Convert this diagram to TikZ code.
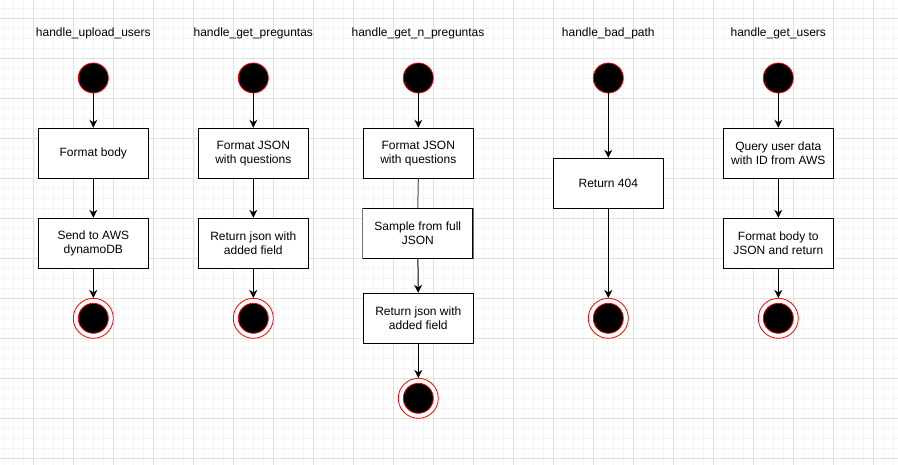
\documentclass[tikz,border=0pt]{standalone}
\usepackage{fontspec}
\setmainfont{Liberation Sans}
\usetikzlibrary{arrows.meta}
\begin{document}
\begin{tikzpicture}[x=1pt,y=-1pt,
  box/.style={draw=black,line width=1pt,fill=white,minimum width=110pt,minimum height=50pt,align=center,inner sep=0pt,font=\fontsize{12}{14}\selectfont},
  title/.style={font=\fontsize{12}{14}\selectfont,inner sep=0pt},
  startst/.style={circle,fill=black,draw=red,line width=0.8pt,minimum size=30pt,inner sep=0pt},
  endst/.style={circle,fill=white,draw=red,line width=0.8pt,minimum size=40pt,inner sep=0pt},
  endin/.style={circle,fill=black,draw=red,line width=0.8pt,minimum size=30pt,inner sep=0pt},
  flow/.style={draw=black,line width=1pt,-{Stealth[length=8pt,width=8pt,inset=2.5pt]}},
  plain/.style={draw=black!70,line width=1pt},
]
\useasboundingbox[fill=white] (0,0) rectangle (898,465);
% grid
\foreach \x in {3.3,13.3,...,898} \draw[black!4,line width=0.8pt] (\x,0) -- (\x,465);
\foreach \y in {8.3,18.3,...,465} \draw[black!4,line width=0.8pt] (0,\y) -- (898,\y);
\foreach \x in {33.3,73.3,...,898} \draw[black!12,line width=0.8pt] (\x,0) -- (\x,465);
\foreach \y in {18.3,58.3,...,465} \draw[black!12,line width=0.8pt] (0,\y) -- (898,\y);

% column 1
\node[title] (t1) at (93.3,33) {handle\_upload\_users};
\node[startst] (s1) at (93.3,78) {};
\node[box] (a1) at (93.3,153.3) {Format body};
\node[box] (b1) at (93.3,243.3) {Send to AWS\\dynamoDB};
\node[endst] (e1) at (93.3,318.3) {};
\node[endin] (e1i) at (93.3,318.3) {};
\draw[flow] (s1) -- (a1);
\draw[flow] (a1) -- (b1);
\draw[flow] (b1) -- (e1);

% column 2
\node[title] (t2) at (253.3,33) {handle\_get\_preguntas};
\node[startst] (s2) at (253.3,78) {};
\node[box] (a2) at (253.3,153.3) {Format JSON\\with questions};
\node[box] (b2) at (253.3,243.3) {Return json with\\added field};
\node[endst] (e2) at (253.3,318.3) {};
\node[endin] (e2i) at (253.3,318.3) {};
\draw[flow] (s2) -- (a2);
\draw[flow] (a2) -- (b2);
\draw[flow] (b2) -- (e2);

% column 3
\node[title] (t3) at (418,33) {handle\_get\_n\_preguntas};
\node[startst] (s3) at (418.3,78) {};
\node[box] (a3) at (418.3,153.3) {Format JSON\\with questions};
\node[box] (m3) at (417.8,233.3) {Sample from full\\JSON};
\draw[black!55,line width=1.4pt] (m3.north west) -- (m3.south west);
\draw[black!55,line width=1.4pt] (m3.north east) -- (m3.south east);
\node[box] (b3) at (418.3,318.3) {Return json with\\added field};
\node[endst] (e3) at (418.3,398.3) {};
\node[endin] (e3i) at (418.3,398.3) {};
\draw[flow] (s3) -- (a3);
\draw[plain] (a3.south) -- (m3.north);
\draw[flow] (m3) -- (b3);
\draw[flow] (b3) -- (e3);

% column 4
\node[title] (t4) at (608.3,33) {handle\_bad\_path};
\node[startst] (s4) at (608.3,78) {};
\node[box] (a4) at (608.3,183.3) {Return 404};
\node[endst] (e4) at (608.3,318.3) {};
\node[endin] (e4i) at (608.3,318.3) {};
\draw[flow] (s4) -- (a4);
\draw[flow] (a4) -- (e4);

% column 5
\node[title] (t5) at (778.3,33) {handle\_get\_users};
\node[startst] (s5) at (778.3,78) {};
\node[box] (a5) at (778.3,153.3) {Query user data\\with ID from AWS};
\node[box] (b5) at (778.3,243.3) {Format body to\\JSON and return};
\node[endst] (e5) at (778.3,318.3) {};
\node[endin] (e5i) at (778.3,318.3) {};
\draw[flow] (s5) -- (a5);
\draw[flow] (a5) -- (b5);
\draw[flow] (b5) -- (e5);
\end{tikzpicture}
\end{document}
